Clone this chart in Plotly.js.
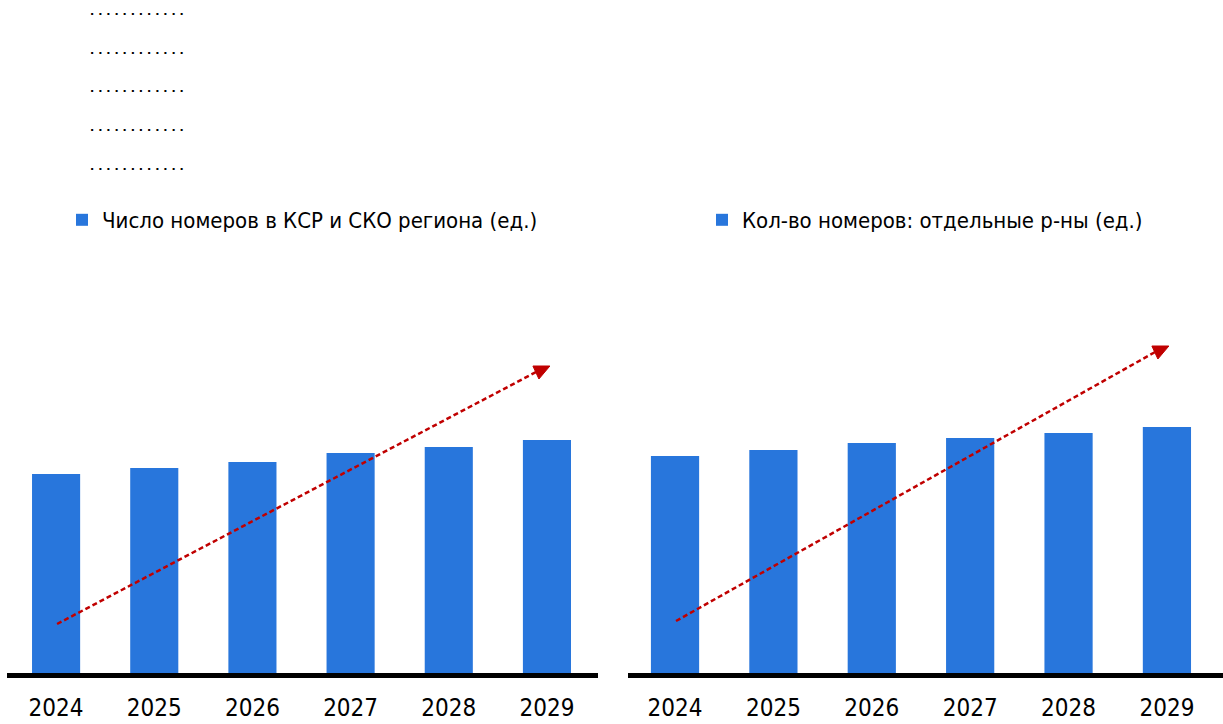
<!DOCTYPE html>
<html>
<head>
<meta charset="utf-8">
<script src="https://cdn.plot.ly/plotly-3.0.1.min.js"></script>
<style>html,body{margin:0;padding:0;background:#fff;}#chart{width:1223px;height:724px;}</style>
</head>
<body>
<div id="chart"></div>
<script>
// ---- data ----
const years = ['2024', '2025', '2026', '2027', '2028', '2029'];
const roomsKsrSko = [1990, 2050, 2110, 2200, 2260, 2330];
const roomsDistricts = [2170, 2230, 2300, 2350, 2400, 2460];
const seriesNames = ['Число номеров в КСР и СКО региона (ед.)', 'Кол-во номеров: отдельные р-ны (ед.)'];
const placeholderRows = [
  '. . . . . . . . . . . .',
  '. . . . . . . . . . . .',
  '. . . . . . . . . . . .',
  '. . . . . . . . . . . .',
  '. . . . . . . . . . . .'
];

const FONT = '"Liberation Sans Narrow", "Arial Narrow", "DejaVu Sans Condensed", sans-serif';
const BLUE = '#2876dc';
const RED = '#c00000';

const traces = [
  {type: 'bar', x: years, y: roomsKsrSko, name: seriesNames[0], xaxis: 'x', yaxis: 'y',
   marker: {color: BLUE}, legend: 'legend', hoverinfo: 'x+y'},
  {type: 'bar', x: years, y: roomsDistricts, name: seriesNames[1], xaxis: 'x2', yaxis: 'y2',
   marker: {color: BLUE}, legend: 'legend2', hoverinfo: 'x+y'}
];

const W = 1223, H = 724;
const yBottom = (H - 673) / H;
const yMax = 6730;

function xaxisCfg(domain, range) {
  return {domain: domain, type: 'category', range: range, showline: true, linecolor: '#000',
    linewidth: 5, ticks: '', showgrid: false, zeroline: false, fixedrange: true,
    tickfont: {family: FONT, size: 24, color: '#000'}, ticklabelstandoff: 9};
}
function yaxisCfg(anchor) {
  return {domain: [yBottom, 1], range: [0, yMax], visible: false, showgrid: false,
    zeroline: false, anchor: anchor, fixedrange: true};
}

const dotRowsY = [14.3, 53, 91.3, 130, 169.3];
const annotations = placeholderRows.map((t, i) => ({
  xref: 'paper', yref: 'paper', x: 88 / W, y: 1 - (dotRowsY[i] - 2.5) / H,
  xanchor: 'left', yanchor: 'middle', text: '<b>' + t + '</b>', showarrow: false,
  font: {family: '"DejaVu Sans", sans-serif', size: 11.2, color: '#000'}
}));

// dashed trend lines + filled arrow heads (data-space, x in category index units)
const pxX = 1 / 98.3;   // category units per pixel
const pxY = 10;         // value units per pixel
function headPath(xref, tipX, tipY) {
  const p = [[0, 0], [-17, 0], [-11, 13]];  // pixel offsets (right, down)
  return {type: 'path', xref: xref, yref: xref === 'x' ? 'y' : 'y2',
    path: p.map((v, k) => (k ? 'L' : 'M') + (tipX + v[0] * pxX).toFixed(4) + ',' + (tipY - v[1] * pxY).toFixed(1)).join(' ') + ' Z',
    fillcolor: RED, line: {color: RED, width: 1}};
}
const shapes = [
  {type: 'line', xref: 'x', yref: 'y', x0: 0.01, y0: 490, x1: 4.89, y1: 3010,
   line: {color: RED, width: 2.5, dash: '5px,3px'}},
  {type: 'line', xref: 'x2', yref: 'y2', x0: 0.01, y0: 520, x1: 4.88, y1: 3210,
   line: {color: RED, width: 2.5, dash: '5px,3px'}},
  headPath('x', 5.03, 3070),
  headPath('x2', 5.02, 3270)
];

const layout = {
  width: W, height: H,
  margin: {l: 0, r: 0, t: 0, b: 0},
  paper_bgcolor: '#fff', plot_bgcolor: '#fff',
  bargap: 0.51,
  showlegend: true,
  xaxis: xaxisCfg([7 / W, 598 / W], [-0.5, 5.52]),
  yaxis: yaxisCfg('x'),
  xaxis2: xaxisCfg([628 / W, 1], [-0.478, 5.57]),
  yaxis2: yaxisCfg('x2'),
  legend: {x: 62 / W, y: 1 - 220 / H, xanchor: 'left', yanchor: 'middle', bgcolor: 'rgba(0,0,0,0)',
    font: {family: FONT, size: 22, color: '#000'}, itemwidth: 30},
  legend2: {x: 702 / W, y: 1 - 220 / H, xanchor: 'left', yanchor: 'middle', bgcolor: 'rgba(0,0,0,0)',
    font: {family: FONT, size: 22, color: '#000'}, itemwidth: 30},
  annotations: annotations,
  shapes: shapes
};

Plotly.newPlot('chart', traces, layout, {displayModeBar: false, staticPlot: true});
</script>
</body>
</html>
